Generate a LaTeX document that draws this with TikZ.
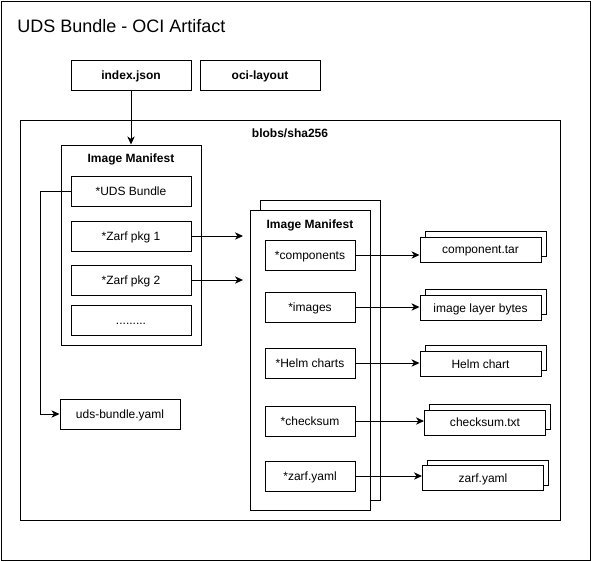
\documentclass[tikz,border=0pt]{standalone}
\usepackage{fontspec}
\setmainfont{Liberation Sans}
\usetikzlibrary{arrows.meta}
\tikzset{
  px/.style={line width=0.75pt},
  box/.style={draw, px, fill=white, inner sep=0pt, minimum width=90pt, minimum height=22.5pt,
    font=\fontsize{9}{11}\selectfont, text height=1.6ex, text depth=0.4ex},
  bbox/.style={box, font=\fontsize{9}{11}\selectfont\bfseries},
  ibox/.style={box, minimum width=67.5pt},
  sbox/.style={box, minimum width=90.75pt, minimum height=18.75pt},
  frame/.style={draw, px, fill=white, inner sep=0pt},
  lbl/.style={font=\fontsize{9}{11}\selectfont\bfseries, inner sep=0pt},
  arr/.style={px, -{Stealth[length=6pt,width=5.5pt,inset=1.8pt]}},
}
\begin{document}
\begin{tikzpicture}[x=0.75pt,y=-0.75pt]
\useasboundingbox (0,0) rectangle (591,561);
\draw[px] (1,1) rectangle (590,560);
\node[anchor=base west, inner sep=0pt, font=\fontsize{13.5}{16}\selectfont] (title) at (17,32.3) {UDS Bundle - OCI Artifact};

\node[bbox] (index) at (131,75) {index.json};
\node[bbox] (oci) at (260,75) {oci-layout};

\node[frame, minimum width=405pt, minimum height=300pt] (blobs) at (290,320) {};
\node[lbl] (blobslbl) at (290,133) {blobs/sha256};

% left manifest
\node[frame, minimum width=105pt, minimum height=150pt] (man1) at (131,245) {};
\node[lbl] (man1lbl) at (131,159) {Image Manifest};
\node[box] (uds) at (131,191) {*UDS Bundle};
\node[box] (zarf1) at (131,236) {*Zarf pkg 1};
\node[box] (zarf2) at (131,280) {*Zarf pkg 2};
\node[box] (dots) at (131,320) {.........};
\node[box] (udsyaml) at (120,414) {uds-bundle.yaml};

% right manifest stack
\node[frame, minimum width=90pt, minimum height=225pt] (man2b) at (320,350) {};
\node[frame, minimum width=90pt, minimum height=225pt] (man2) at (310,360) {};
\node[lbl] (man2lbl) at (310,225) {Image Manifest};
\node[ibox] (comp) at (310,255) {*components};
\node[ibox] (imgs) at (310,307) {*images};
\node[ibox] (helm) at (310,363) {*Helm charts};
\node[ibox] (chk) at (310,421) {*checksum};
\node[ibox] (zy) at (310,476) {*zarf.yaml};

% blob stacks
\node[sbox] (compb) at (485.5,243.5) {};
\node[sbox] (compt) at (480.5,249.5) {component.tar};
\node[sbox] (imgsb) at (485.5,302) {};
\node[sbox] (imgst) at (480.5,308) {image layer bytes};
\node[sbox] (helmb) at (485.5,358) {};
\node[sbox] (helmt) at (480.5,364) {Helm chart};
\node[sbox] (chkb) at (490,417) {};
\node[sbox] (chkt) at (485,422.5) {checksum.txt};
\node[sbox] (zyb) at (488,472.5) {};
\node[sbox] (zyt) at (483,478) {zarf.yaml};

% connectors
\coordinate (z1end) at (243,236);
\coordinate (z2end) at (243,280);
\draw[arr] (index) -- (man1);
\draw[arr] (uds.west) -- ++(-30,0) |- (udsyaml.west);
\draw[arr] (zarf1) -- (z1end);
\draw[arr] (zarf2) -- (z2end);
\draw[arr] (comp.east) -- (comp.east -| compt.west);
\draw[arr] (imgs.east) -- (imgs.east -| imgst.west);
\draw[arr] (helm.east) -- (helm.east -| helmt.west);
\draw[arr] (chk.east) -- (chk.east -| chkt.west);
\draw[arr] (zy.east) -- (zy.east -| zyt.west);
\end{tikzpicture}
\end{document}
